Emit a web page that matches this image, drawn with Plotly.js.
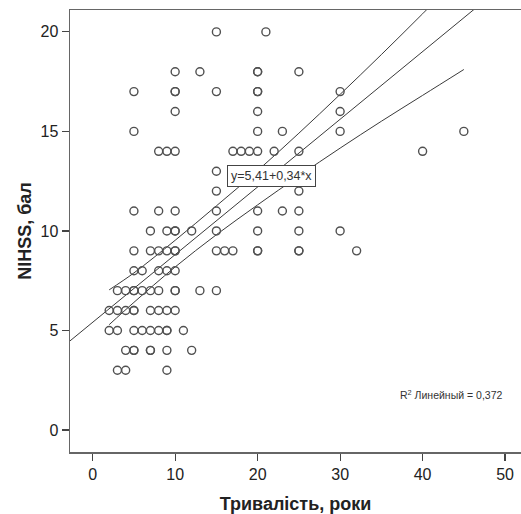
<!DOCTYPE html>
<html>
<head>
<meta charset="utf-8">
<script src="https://cdn.plot.ly/plotly-3.0.1.min.js"></script>
<style>html,body{margin:0;padding:0;background:#fff;}#chart{width:521px;height:514px;}</style>
</head>
<body>
<div id="chart"></div>
<script>
// Scatter data: duration (years) vs NIHSS score
const durationYears = [
  15, 21,
  10, 13, 20, 20, 25,
  5, 10, 10, 15, 20, 20, 30,
  10, 20, 30,
  5, 20, 23, 30, 45,
  8, 9, 10, 17, 18, 19, 20, 22, 25, 40,
  15,
  15, 25,
  5, 8, 10, 15, 20, 23, 25,
  7, 9, 10, 10, 12, 15, 20, 25, 30,
  5, 7, 8, 9, 10, 10, 15, 16, 17, 20, 20, 25, 25, 32,
  5, 6, 8, 9, 10,
  3, 4, 5, 5, 6, 7, 8, 10, 10, 13, 15,
  2, 3, 4, 5, 5, 7, 8, 9, 10,
  2, 3, 5, 6, 7, 8, 9, 9, 11,
  4, 5, 5, 7, 7, 9, 12,
  3, 4, 9
];
const nihssScore = [
  20, 20,
  18, 18, 18, 18, 18,
  17, 17, 17, 17, 17, 17, 17,
  16, 16, 16,
  15, 15, 15, 15, 15,
  14, 14, 14, 14, 14, 14, 14, 14, 14, 14,
  13,
  12, 12,
  11, 11, 11, 11, 11, 11, 11,
  10, 10, 10, 10, 10, 10, 10, 10, 10,
  9, 9, 9, 9, 9, 9, 9, 9, 9, 9, 9, 9, 9, 9,
  8, 8, 8, 8, 8,
  7, 7, 7, 7, 7, 7, 7, 7, 7, 7, 7,
  6, 6, 6, 6, 6, 6, 6, 6, 6,
  5, 5, 5, 5, 5, 5, 5, 5, 5,
  4, 4, 4, 4, 4, 4, 4,
  3, 3, 3
];

// Linear fit as printed on the chart: y = 5,41 + 0,34*x
const fitIntercept = 5.41;
const fitSlope = 0.34;
const fitX = [-2.75, 52];

// 95% confidence band
const ciX     = [2, 5, 10, 15, 20, 25, 30, 35, 40, 45];
const ciUpper = [7.04, 7.89, 9.53, 11.26, 13.03, 14.91, 16.86, 18.86, 20.91, 23.01];
const ciLower = [5.29, 6.41, 8.19, 9.81, 11.31, 12.76, 14.16, 15.51, 16.81, 18.11];

const xTicks = [0, 10, 20, 30, 40, 50];
const yTicks = [0, 5, 10, 15, 20];

const eqLabel = 'y=5,41+0,34*x';
const r2Label = 'R<sup>2</sup> Линейный = 0,372';
const xTitle = 'Тривалість, роки';
const yTitle = 'NIHSS, бал';

const lineColor = '#3a3a3a';
const fitY = fitX.map(x => fitIntercept + fitSlope * x);

const traces = [
  {x: fitX, y: fitY, type: 'scatter', mode: 'lines', line: {color: lineColor, width: 1}, hoverinfo: 'skip'},
  {x: ciX, y: ciUpper, type: 'scatter', mode: 'lines', line: {color: lineColor, width: 1, shape: 'spline'}, hoverinfo: 'skip'},
  {x: ciX, y: ciLower, type: 'scatter', mode: 'lines', line: {color: lineColor, width: 1, shape: 'spline'}, hoverinfo: 'skip'},
  {x: durationYears, y: nihssScore, type: 'scatter', mode: 'markers',
   marker: {symbol: 'circle-open', size: 8, color: '#505050', line: {width: 1.4}}}
];

const font = 'Liberation Sans, Arial, sans-serif';
const layout = {
  width: 521, height: 514,
  margin: {l: 70, r: 0, t: 10, b: 62},
  paper_bgcolor: '#fff', plot_bgcolor: '#fff',
  showlegend: false,
  font: {family: font, color: '#222'},
  xaxis: {
    range: [-2.75, 51.93], tickvals: xTicks, ticktext: xTicks.map(String),
    showgrid: false, zeroline: false, showline: true, mirror: true,
    linecolor: '#666', linewidth: 1.5, ticks: 'outside', ticklen: 7, tickcolor: '#444', tickwidth: 1.2,
    tickfont: {size: 16, family: font, color: '#222'},
    title: {text: xTitle, font: {size: 18, family: font, color: '#222', weight: 'bold'}, standoff: 16}
  },
  yaxis: {
    range: [-1.107, 21.1], tickvals: yTicks, ticktext: yTicks.map(String),
    showgrid: false, zeroline: false, showline: true, mirror: false,
    linecolor: '#666', linewidth: 1.5, ticks: 'outside', ticklen: 7, tickcolor: '#444', tickwidth: 1.2,
    tickfont: {size: 16, family: font, color: '#222'},
    title: {text: yTitle, font: {size: 18, family: font, color: '#222', weight: 'bold'}, standoff: 4}
  },
  annotations: [
    {x: 21.62, y: 12.78, xref: 'x', yref: 'y', text: eqLabel, showarrow: false,
     font: {size: 12.5, family: font, color: '#333'}, bgcolor: '#fff', bordercolor: '#444', borderwidth: 1, borderpad: 3},
    {x: 43.5, y: 1.76, xref: 'x', yref: 'y', text: r2Label, showarrow: false,
     font: {size: 10.5, family: font, color: '#333'}}
  ]
};

Plotly.newPlot('chart', traces, layout, {displayModeBar: false, staticPlot: true});
</script>
</body>
</html>
